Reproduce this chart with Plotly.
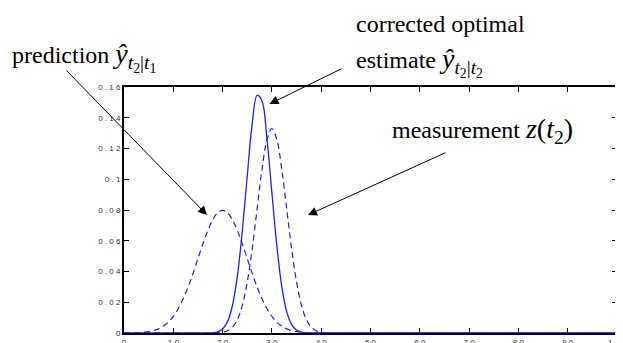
import plotly.graph_objects as go

# ---- data ----
x_vals = list(range(0, 46)) + [100]

prediction = [0.0000, 0.0001, 0.0001, 0.0002, 0.0005, 0.0009, 0.0016, 0.0027, 0.0045, 0.0071,
              0.0108, 0.0158, 0.0222, 0.0299, 0.0388, 0.0484, 0.0579, 0.0666, 0.0737, 0.0782,
              0.0798, 0.0782, 0.0737, 0.0666, 0.0579, 0.0484, 0.0388, 0.0299, 0.0222, 0.0158,
              0.0108, 0.0071, 0.0045, 0.0027, 0.0016, 0.0009, 0.0005, 0.0002, 0.0001, 0.0001,
              0.0000, 0.0000, 0.0000, 0.0000, 0.0000, 0.0000, 0.0000]

measurement = [0.0000] * 19 + [
              0.0002, 0.0005, 0.0015, 0.0038, 0.0087, 0.0180, 0.0332, 0.0547, 0.0807, 0.1065,
              0.1258, 0.1330, 0.1258, 0.1065, 0.0807, 0.0547, 0.0332, 0.0180, 0.0087, 0.0038,
              0.0015, 0.0005, 0.0002, 0.0000, 0.0000, 0.0000, 0.0000, 0.0000]

corrected = [0.0000] * 17 + [
             0.0000, 0.0002, 0.0008, 0.0026, 0.0074, 0.0179, 0.0371, 0.0664, 0.1021, 0.1360,
             0.1546, 0.1508, 0.1262, 0.0912, 0.0567, 0.0303, 0.0139, 0.0055, 0.0019, 0.0005,
             0.0001, 0.0000, 0.0000, 0.0000, 0.0000, 0.0000, 0.0000, 0.0000, 0.0000, 0.0000]
corrected = corrected[:47]

x_ticks = [0, 10, 20, 30, 40, 50, 60, 70, 80, 90, 100]
x_tick_labels = ["0", "1 0", "2 0", "3 0", "4 0", "5 0", "6 0", "7 0", "8 0", "9 0", "1 0 0"]
y_ticks = [0, 0.02, 0.04, 0.06, 0.08, 0.1, 0.12, 0.14, 0.16]
y_tick_labels = ["0", "0 . 0 2", "0 . 0 4", "0 . 0 6", "0 . 0 8", "0 . 1", "0 . 1 2", "0 . 1 4", "0 . 1 6"]

BLUE = "#1f1fff"

fig = go.Figure()
fig.add_trace(go.Scatter(x=x_vals, y=prediction, mode="lines", line_shape="spline",
                         line=dict(color=BLUE, width=1.2, dash="6px,4px"), hoverinfo="skip"))
fig.add_trace(go.Scatter(x=x_vals, y=measurement, mode="lines", line_shape="spline",
                         line=dict(color=BLUE, width=1.2, dash="6px,4px"), hoverinfo="skip"))
fig.add_trace(go.Scatter(x=x_vals, y=corrected, mode="lines", line_shape="spline",
                         line=dict(color=BLUE, width=1.3), hoverinfo="skip"))

OFF = 8  # page body margin
W, H = 623 - OFF, 343 - OFF
L, R, T, B = 124 - OFF, 6, 87 - OFF, 10
PW, PH = W - L - R, H - T - B

def px(x):
    return (x - OFF - L) / PW

def py(y):
    return (H + OFF - B - y) / PH

TXT = dict(family="Liberation Serif, Times New Roman, serif", size=24, color="black")
M = '<span style="font-size:28px">'

texts = [
    (10, 57, "prediction " + M + "<i>ŷ</i><sub><i>t</i><sub>2</sub>|<i>t</i><sub>1</sub></sub></span>"),
    (354, 24, "corrected optimal"),
    (354, 62, "estimate " + M + "<i>ŷ</i><sub><i>t</i><sub>2</sub>|<i>t</i><sub>2</sub></sub></span>"),
    (390, 130, "measurement " + M + "<i>z</i>(<i>t</i><sub>2</sub>)</span>"),
]
for x0, y0, t in texts:
    fig.add_annotation(x=px(x0), y=py(y0), xref="paper", yref="paper", text=t,
                       showarrow=False, xanchor="left", yanchor="middle", font=TXT)

# arrows: tip (pixel), tail (pixel)
arrows = [((207, 215), (65, 69)), ((269.5, 104), (343, 68)), ((308, 215), (447, 152))]
for (tx, ty), (sx, sy) in arrows:
    fig.add_annotation(x=px(tx), y=py(ty), xref="paper", yref="paper", text="",
                       showarrow=True, arrowhead=2, arrowsize=1.8, arrowwidth=1,
                       arrowcolor="black", ax=sx - tx, ay=sy - ty, standoff=0, startstandoff=0)

axis_common = dict(showline=True, linecolor="black", linewidth=2, mirror="ticks",
                   ticks="inside", ticklen=5, tickwidth=1, tickcolor="black",
                   showgrid=False, zeroline=False, layer="below traces",
                   automargin=False, ticklabeloverflow="allow",
                   tickfont=dict(family="Liberation Sans, Arial, sans-serif", size=8, color="#333333"))

fig.update_xaxes(range=[0, 100], tickvals=x_ticks, ticktext=x_tick_labels, **axis_common)
fig.update_yaxes(range=[0, 0.16], tickvals=y_ticks, ticktext=y_tick_labels, **axis_common)

fig.update_layout(width=W, height=H, autosize=False, showlegend=False,
                  margin=dict(l=L, r=R, t=T, b=B, pad=0),
                  paper_bgcolor="white", plot_bgcolor="white")

fig.write_html("out.html")
